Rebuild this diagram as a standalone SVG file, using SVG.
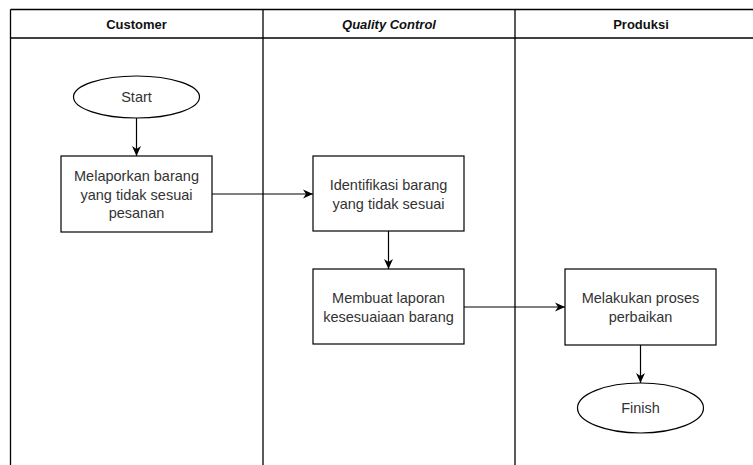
<svg xmlns="http://www.w3.org/2000/svg" width="753" height="465" viewBox="0 0 753 465">
  <style>
    .pool { fill: none; stroke: #000; stroke-width: 1.3; }
    .node { fill: #fff; stroke: #000; stroke-width: 1.2; }
    .head { font-family: "Liberation Sans", Arial, sans-serif; font-size: 13px; font-weight: bold; fill: #111; text-anchor: middle; }
    .label { font-family: "Liberation Sans", Arial, sans-serif; font-size: 14.5px; fill: #333; text-anchor: middle; }
    .edge { fill: none; stroke: #000; stroke-width: 1.2; }
  </style>
  <defs>
    <marker id="arrow" viewBox="0 0 10 10" refX="10" refY="5" markerWidth="10" markerHeight="10" markerUnits="userSpaceOnUse" orient="auto">
      <path d="M0,0.5 L10,5 L0,9.5 L3,5 Z" fill="#000"/>
    </marker>
  </defs>
  <rect width="753" height="465" fill="#fff"/>

  <!-- swimlane pool -->
  <g id="pool">
    <line class="pool" x1="10.5" y1="9.5" x2="753" y2="9.5"/>
    <line class="pool" x1="10.5" y1="38" x2="753" y2="38"/>
    <line class="pool" x1="10.5" y1="9.5" x2="10.5" y2="465"/>
    <line class="pool" x1="263" y1="9.5" x2="263" y2="465"/>
    <line class="pool" x1="515" y1="9.5" x2="515" y2="465"/>
    <text class="head" x="136.5" y="28.5">Customer</text>
    <text class="head" x="389" y="28.5" font-style="italic">Quality Control</text>
    <text class="head" x="641" y="28.5">Produksi</text>
  </g>

  <!-- connectors -->
  <g id="connectors">
    <line class="edge" x1="136.5" y1="118" x2="136.5" y2="156" marker-end="url(#arrow)"/>
    <line class="edge" x1="212" y1="194" x2="313" y2="194" marker-end="url(#arrow)"/>
    <line class="edge" x1="388.5" y1="231" x2="388.5" y2="269" marker-end="url(#arrow)"/>
    <line class="edge" x1="464" y1="307" x2="565" y2="307" marker-end="url(#arrow)"/>
    <line class="edge" x1="640.5" y1="345" x2="640.5" y2="383" marker-end="url(#arrow)"/>
  </g>

  <g id="start">
    <ellipse class="node" cx="136.5" cy="97" rx="63" ry="21"/>
    <text class="label" x="136.5" y="102">Start</text>
  </g>

  <g id="lapor">
    <rect class="node" x="61" y="156" width="151" height="76"/>
    <text class="label" x="136.5" y="181">Melaporkan barang</text>
    <text class="label" x="136.5" y="199.5">yang tidak sesuai</text>
    <text class="label" x="136.5" y="218">pesanan</text>
  </g>

  <g id="identifikasi">
    <rect class="node" x="313" y="156" width="151" height="75"/>
    <text class="label" x="388.5" y="190">Identifikasi barang</text>
    <text class="label" x="388.5" y="208.5">yang tidak sesuai</text>
  </g>

  <g id="laporan">
    <rect class="node" x="313" y="269" width="151" height="75"/>
    <text class="label" x="388.5" y="303">Membuat laporan</text>
    <text class="label" x="388.5" y="321.5">kesesuaiaan barang</text>
  </g>

  <g id="perbaikan">
    <rect class="node" x="565" y="269" width="151" height="76"/>
    <text class="label" x="640.5" y="303">Melakukan proses</text>
    <text class="label" x="640.5" y="321.5">perbaikan</text>
  </g>

  <g id="finish">
    <ellipse class="node" cx="640.5" cy="408" rx="63" ry="25"/>
    <text class="label" x="640.5" y="413">Finish</text>
  </g>
</svg>
